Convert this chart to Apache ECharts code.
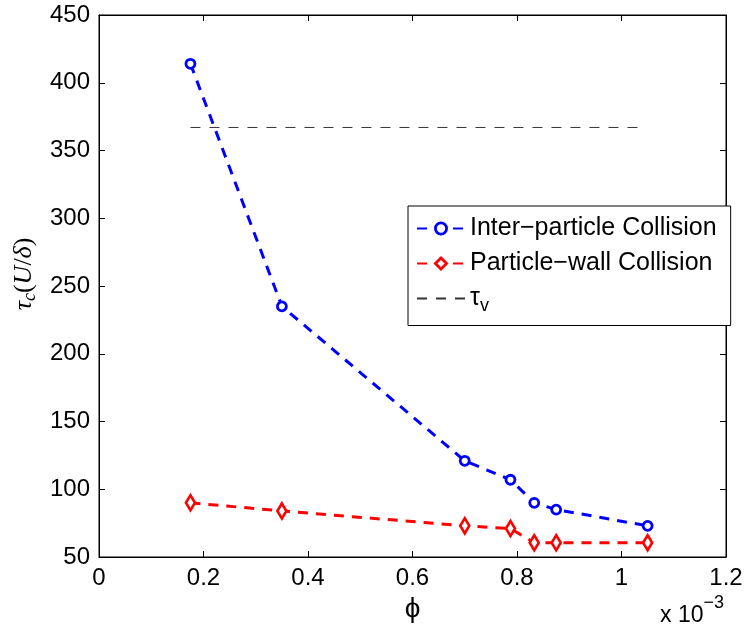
<!DOCTYPE html>
<html>
<head>
<meta charset="utf-8">
<script src="https://cdn.jsdelivr.net/npm/echarts@6/dist/echarts.min.js"></script>
<style>html,body{margin:0;padding:0;background:#fff;}#c{width:746px;height:632px;}</style>
</head>
<body>
<div id="c"></div>
<script>
// phi values (x 10^-3)
const phi = [0.175, 0.35, 0.70, 0.7875, 0.833, 0.875, 1.05];
const interParticle = [414, 235, 121, 107, 90, 85, 73];
const particleWall = [90, 84, 73, 71, 60.5, 60.5, 60.5];
const tauV = 367;
const tauVRange = [0.175, 1.045];
const seriesNames = ['Inter\u2212particle Collision', 'Particle\u2212wall Collision', 'tau_v'];
const xTicks = { min: 0, max: 1.2, interval: 0.2 };
const yTicks = { min: 50, max: 450, interval: 50 };

const FONT = '"Liberation Sans", Arial, Helvetica, sans-serif';
const SERIF = '"Liberation Serif", "DejaVu Serif", serif';

const pairs = a => phi.map((x, i) => [x, a[i]]);

const chart = echarts.init(document.getElementById('c'), null, { renderer: 'canvas' });
const axisCommon = {
  axisLine: { show: true, onZero: false, lineStyle: { color: '#000', width: 1 } },
  axisTick: { show: true, inside: true, length: 6, lineStyle: { color: '#000' } },
  splitLine: { show: false }
};
const blueMarker = { color: '#fff', borderColor: '#0000ff', borderWidth: 2.8 };
const redMarker = { color: '#fff', borderColor: '#ff0000', borderWidth: 2.8 };
chart.setOption({
  animation: false,
  backgroundColor: '#fff',
  grid: { left: 99, right: 20, top: 15, bottom: 75, show: true, borderColor: '#000', borderWidth: 1, backgroundColor: 'transparent' },
  legend: {
    orient: 'vertical',
    left: 408,
    top: 206,
    width: 300,
    padding: [10, 14, 10, 8],
    itemGap: 10,
    itemWidth: 48,
    itemHeight: 14,
    backgroundColor: '#fff',
    borderColor: '#000',
    borderWidth: 1,
    data: [
      { name: seriesNames[0], itemStyle: blueMarker },
      { name: seriesNames[1], itemStyle: redMarker },
      { name: seriesNames[2], itemStyle: { opacity: 0 } }
    ],
    textStyle: {
      fontFamily: FONT, fontSize: 25, color: '#000',
      rich: {
        t: { fontFamily: FONT, fontSize: 25, color: '#000' },
        s: { fontFamily: FONT, fontSize: 18, color: '#000', verticalAlign: 'bottom', padding: [16, 0, 0, 0] }
      }
    },
    formatter: n => n === 'tau_v' ? '{t|\u03c4}{s|v}' : n
  },
  xAxis: [
    Object.assign({}, axisCommon, {
      type: 'value', position: 'bottom', min: xTicks.min, max: xTicks.max, interval: xTicks.interval,
      axisLabel: { fontFamily: FONT, fontSize: 24, color: '#000', margin: 9 },
      name: '\u03d5', nameLocation: 'middle', nameGap: 33,
      nameTextStyle: { fontFamily: FONT, fontSize: 28, color: '#000' }
    }),
    Object.assign({}, axisCommon, {
      type: 'value', position: 'top', min: xTicks.min, max: xTicks.max, interval: xTicks.interval,
      axisLabel: { show: false }
    })
  ],
  yAxis: [
    Object.assign({}, axisCommon, {
      type: 'value', position: 'left', min: yTicks.min, max: yTicks.max, interval: yTicks.interval,
      axisLabel: { fontFamily: FONT, fontSize: 24, color: '#000', margin: 9 },
      name: '{t|\u03c4}{s|c}{p|(}{i|U}{p|/}{i|\u03b4}{p|)}',
      nameLocation: 'middle', nameGap: 60, nameRotate: 90,
      nameTextStyle: {
        padding: [0, 0, 0, 24],
        rich: {
          t: { fontFamily: SERIF, fontStyle: 'italic', fontSize: 26, color: '#000' },
          s: { fontFamily: SERIF, fontStyle: 'italic', fontSize: 18, color: '#000', verticalAlign: 'bottom', padding: [12, 0, 0, 0] },
          p: { fontFamily: SERIF, fontSize: 26, color: '#000' },
          i: { fontFamily: SERIF, fontStyle: 'italic', fontSize: 26, color: '#000' }
        }
      }
    }),
    Object.assign({}, axisCommon, {
      type: 'value', position: 'right', min: yTicks.min, max: yTicks.max, interval: yTicks.interval,
      axisLabel: { show: false }
    })
  ],
  series: [
    {
      name: seriesNames[0], type: 'line', xAxisIndex: 0, yAxisIndex: 0,
      data: pairs(interParticle),
      symbol: 'circle', symbolSize: 9,
      itemStyle: blueMarker,
      lineStyle: { color: '#0000ff', width: 3, type: [10, 8] }
    },
    {
      name: seriesNames[1], type: 'line', xAxisIndex: 0, yAxisIndex: 0,
      data: pairs(particleWall),
      symbol: 'diamond', symbolSize: [9, 15],
      itemStyle: redMarker,
      lineStyle: { color: '#ff0000', width: 3, type: [10, 8] }
    },
    {
      name: seriesNames[2], type: 'line', xAxisIndex: 0, yAxisIndex: 0,
      data: tauVRange.map(x => [x, tauV]),
      symbol: 'none', showSymbol: false,
      itemStyle: { color: '#333' },
      lineStyle: { color: '#333', width: 1, type: [10, 9] }
    }
  ],
  graphic: [
    {
      type: 'text', left: 660, top: 594,
      style: {
        text: '{a|x 10}{b|\u22123}',
        rich: {
          a: { fontFamily: FONT, fontSize: 23, color: '#000', padding: [10, 0, 0, 0] },
          b: { fontFamily: FONT, fontSize: 18, color: '#000', verticalAlign: 'top' }
        }
      }
    }
  ]
});
</script>
</body>
</html>
